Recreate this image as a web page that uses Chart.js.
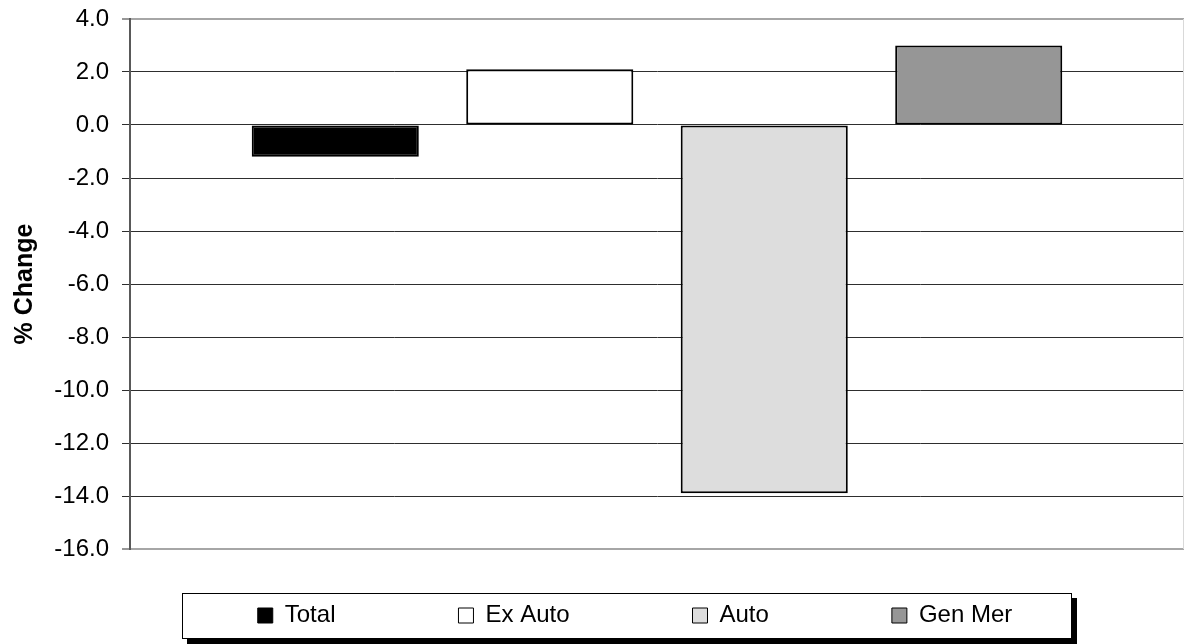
<!DOCTYPE html>
<html>
<head>
<meta charset="utf-8">
<title>% Change</title>
<script src="https://cdn.jsdelivr.net/npm/chart.js@4/dist/chart.umd.min.js"></script>
<style>
  html, body { margin: 0; padding: 0; background: #ffffff; }
  #wrap { width: 1185px; height: 644px; }
</style>
</head>
<body>
<div id="wrap"><canvas id="chart" width="1185" height="644"></canvas></div>
<script>
// Series shown side by side in a single category
const seriesNames = ['Total', 'Ex Auto', 'Auto', 'Gen Mer'];
const seriesValues = [-1.2, 2.1, -13.9, 3.0];
const seriesColors = ['#000000', '#ffffff', '#dddddd', '#969696'];

// Value axis ticks
const yTickValues = [4, 2, 0, -2, -4, -6, -8, -10, -12, -14, -16];
const yTickLabels = ['4.0', '2.0', '0.0', '-2.0', '-4.0', '-6.0', '-8.0', '-10.0', '-12.0', '-14.0', '-16.0'];
const yTitle = '% Change';

Chart.defaults.font.family = '"Liberation Sans", Arial, Helvetica, sans-serif';
Chart.defaults.color = '#000000';

const FONT_SIZE = 24;
const LEGEND_GAP = 123;

// Framed legend with a drop shadow, plus the light right edge of the plot area
const framePlugin = {
  id: 'frame',
  afterLayout(chart) {
    const lg = chart.legend;
    if (!lg) return;
    const itemsCenter = 635;
    lg.left = itemsCenter - 520;
    lg.right = itemsCenter + 520;
    lg.top = 603.5 - LEGEND_GAP;
    lg.bottom = chart.height;
    lg.width = lg.right - lg.left;
    lg.height = lg.bottom - lg.top;
  },
  beforeDraw(chart) {
    const ctx = chart.ctx;
    const box = { left: 182, top: 593, right: 1072, bottom: 639 };
    ctx.save();
    ctx.fillStyle = '#000000';
    ctx.fillRect(box.left + 5, box.top + 5, box.right - box.left, box.bottom - box.top);
    ctx.fillStyle = '#ffffff';
    ctx.fillRect(box.left, box.top, box.right - box.left, box.bottom - box.top);
    ctx.strokeStyle = '#000000';
    ctx.lineWidth = 1;
    ctx.strokeRect(box.left + 0.5, box.top + 0.5, box.right - box.left - 1, box.bottom - box.top - 1);
    ctx.restore();
  },
  beforeDatasetsDraw(chart) {
    const { ctx, chartArea } = chart;
    ctx.save();
    ctx.strokeStyle = '#d9d9d9';
    ctx.lineWidth = 1;
    ctx.beginPath();
    ctx.moveTo(chartArea.right - 0.5, chartArea.top);
    ctx.lineTo(chartArea.right - 0.5, chartArea.bottom);
    ctx.stroke();
    ctx.restore();
  }
};

const isEdge = v => v === yTickValues[0] || v === yTickValues[yTickValues.length - 1];

new Chart(document.getElementById('chart'), {
  type: 'bar',
  data: {
    labels: [''],
    datasets: seriesNames.map((name, i) => ({
      label: name,
      data: [seriesValues[i]],
      backgroundColor: seriesColors[i],
      borderColor: '#000000',
      borderWidth: 2,
      borderSkipped: false,
      categoryPercentage: 0.814,
      barPercentage: 0.779
    }))
  },
  options: {
    responsive: false,
    devicePixelRatio: 1,
    animation: false,
    layout: { padding: { top: 19, right: 1, bottom: 35, left: 0 } },
    scales: {
      x: { display: false },
      y: {
        min: -16,
        max: 4,
        afterFit(scale) {
          scale.width = 130;
          scale.paddingTop = 0;
          scale.paddingBottom = 0;
        },
        afterBuildTicks(scale) { scale.ticks = yTickValues.map(v => ({ value: v })); },
        ticks: {
          color: '#000000',
          font: { size: FONT_SIZE },
          padding: 13,
          callback: (value) => yTickLabels[yTickValues.indexOf(value)]
        },
        grid: {
          color: ctx => (ctx.tick && isEdge(ctx.tick.value)) ? '#a6a6a6' : '#2e2e2e',
          lineWidth: ctx => (ctx.tick && isEdge(ctx.tick.value)) ? 2 : 1,
          tickLength: 8,
          tickColor: '#2e2e2e',
          tickWidth: 1
        },
        border: { display: true, color: '#595959', width: 2 },
        title: {
          display: true,
          text: yTitle,
          color: '#000000',
          font: { size: 25, weight: 'bold' },
          padding: { top: 10, bottom: 0 }
        }
      }
    },
    plugins: {
      legend: {
        position: 'bottom',
        maxHeight: 60,
        labels: {
          color: '#000000',
          font: { size: FONT_SIZE },
          boxWidth: 15,
          boxHeight: 15,
          padding: LEGEND_GAP,
          generateLabels(chart) {
            const items = Chart.defaults.plugins.legend.labels.generateLabels(chart);
            items.forEach(it => { it.lineWidth = 1; it.strokeStyle = '#000000'; });
            return items;
          }
        }
      },
      tooltip: { enabled: false }
    }
  },
  plugins: [framePlugin]
});
</script>
</body>
</html>
